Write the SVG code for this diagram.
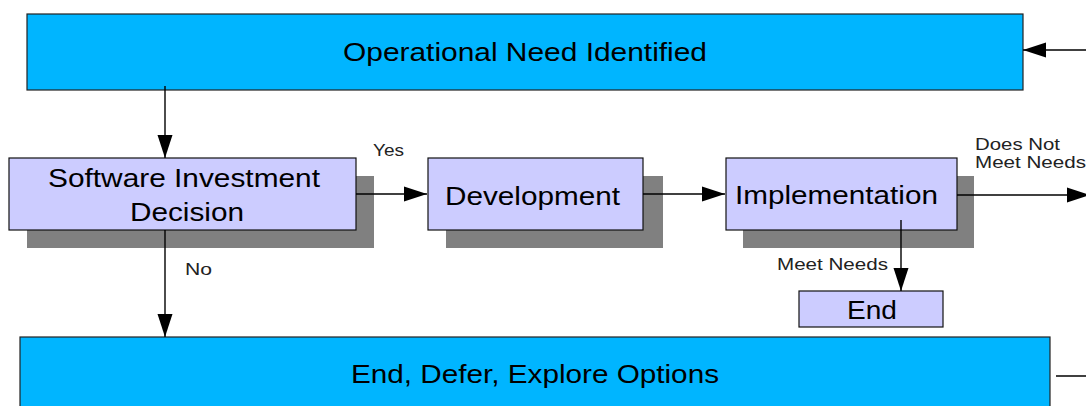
<svg xmlns="http://www.w3.org/2000/svg" width="1086" height="406" viewBox="0 0 1086 406">
  <defs>
    <style>
      .band { fill: #00B5FF; stroke: #222; stroke-width: 1.2; }
      .step { fill: #CCCCFF; stroke: #111; stroke-width: 1.2; }
      .shadow { fill: #808080; }
      .big { font-family: "Liberation Sans", Arial, sans-serif; font-size: 26px; fill: #000; }
      .small { font-family: "Liberation Sans", Arial, sans-serif; font-size: 16.5px; fill: #222; }
      .wire { stroke: #000; stroke-width: 1.4; fill: none; }
      .head { stroke: #000; stroke-width: 1.4; fill: none; marker-end: url(#arrow); }
    </style>
    <marker id="arrow" markerUnits="userSpaceOnUse" markerWidth="24" markerHeight="16" refX="23" refY="8" orient="auto">
      <path d="M0,0.5 L23,8 L0,15.5 z" fill="#000"/>
    </marker>
  </defs>

  <!-- top band -->
  <g id="need">
    <rect class="band" x="27" y="14" width="996" height="76"/>
    <text class="big" x="343" y="61" textLength="364" lengthAdjust="spacingAndGlyphs">Operational Need Identified</text>
  </g>

  <!-- decision step -->
  <g id="decision">
    <rect class="shadow" x="27" y="176" width="347" height="72"/>
    <rect class="step" x="9" y="158" width="347" height="72"/>
    <text class="big" x="48" y="187" textLength="272" lengthAdjust="spacingAndGlyphs">Software Investment</text>
    <text class="big" x="130" y="221" textLength="114" lengthAdjust="spacingAndGlyphs">Decision</text>
  </g>

  <g id="development">
    <rect class="shadow" x="446" y="176" width="217" height="72"/>
    <rect class="step" x="428" y="158" width="215" height="72"/>
    <text class="big" x="445" y="205" textLength="175" lengthAdjust="spacingAndGlyphs">Development</text>
  </g>

  <g id="implementation">
    <rect class="shadow" x="743" y="176" width="231" height="72"/>
    <rect class="step" x="726" y="158" width="231" height="72"/>
    <text class="big" x="735" y="204" textLength="203" lengthAdjust="spacingAndGlyphs">Implementation</text>
  </g>

  <g id="end">
    <rect class="step" x="799" y="291" width="144" height="36"/>
    <text class="big" x="847" y="319" textLength="50" lengthAdjust="spacingAndGlyphs">End</text>
  </g>

  <!-- bottom band -->
  <g id="options">
    <rect class="band" x="20" y="337" width="1030" height="80"/>
    <text class="big" x="351" y="383" textLength="368" lengthAdjust="spacingAndGlyphs">End, Defer, Explore Options</text>
  </g>

  <!-- connectors and their labels -->
  <g id="connectors">
    <line class="head" x1="165" y1="86" x2="165" y2="158"/>
    <line class="head" x1="356" y1="194" x2="427" y2="194"/>
    <line class="head" x1="643" y1="194" x2="725" y2="194"/>
    <line class="head" x1="957" y1="195" x2="1090" y2="195"/>
    <line class="head" x1="901" y1="220" x2="901" y2="291"/>
    <line class="head" x1="165" y1="230" x2="165" y2="337"/>
    <line class="head" x1="1090" y1="50" x2="1023" y2="50"/>
    <line class="wire" x1="1056" y1="376" x2="1090" y2="376"/>

    <text class="small" x="373" y="156" textLength="31" lengthAdjust="spacingAndGlyphs">Yes</text>
    <text class="small" x="185" y="275" textLength="27" lengthAdjust="spacingAndGlyphs">No</text>
    <text class="small" x="975" y="150" textLength="85" lengthAdjust="spacingAndGlyphs">Does Not</text>
    <text class="small" x="975" y="168" textLength="111" lengthAdjust="spacingAndGlyphs">Meet Needs</text>
    <text class="small" x="777" y="270" textLength="111" lengthAdjust="spacingAndGlyphs">Meet Needs</text>
  </g>
</svg>
